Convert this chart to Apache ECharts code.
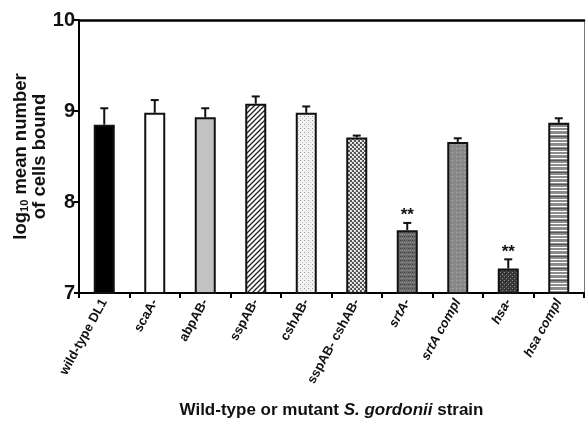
<!DOCTYPE html>
<html>
<head>
<meta charset="utf-8">
<script src="https://cdn.jsdelivr.net/npm/echarts@6/dist/echarts.min.js"></script>
<style>html,body{margin:0;padding:0;background:#fff}#c{width:586px;height:423px}</style>
</head>
<body>
<div id="c"></div>
<script>
var categories = ['wild-type DL1','scaA-','abpAB-','sspAB-','cshAB-','sspAB- cshAB-','srtA-','srtA compl','hsa-','hsa compl'];
var italicCats = [false,false,false,false,false,false,true,true,true,true];
var values = [8.85, 8.98, 8.93, 9.08, 8.98, 8.71, 7.69, 8.66, 7.27, 8.87];
var errorTops = [9.03, 9.12, 9.03, 9.16, 9.05, 8.73, 7.77, 8.70, 7.37, 8.92];
var annotations = ['', '', '', '', '', '', '**', '', '**', ''];
var yTicks = [7, 8, 9, 10];

var FF = 'Liberation Sans, Arial, sans-serif';
function pat(kind){
  var c = document.createElement('canvas');
  var s = 4; c.width = s; c.height = s;
  var g = c.getContext('2d');
  function px(x,y,col){g.fillStyle=col;g.fillRect(x,y,1,1);}
  if(kind==='hatch'){
    c.width=5;c.height=5;
    g.fillStyle='#fff';g.fillRect(0,0,5,5);
    g.strokeStyle='#222';g.lineWidth=1.3;
    g.beginPath();g.moveTo(-1,6);g.lineTo(6,-1);g.moveTo(-1,1);g.lineTo(1,-1);g.moveTo(4,6);g.lineTo(6,4);g.stroke();
  } else if(kind==='lightdots'){
    g.fillStyle='#f2f2f2';g.fillRect(0,0,s,s);
    px(0,0,'#999');px(2,2,'#bbb');
  } else if(kind==='checker'){
    g.fillStyle='#555';g.fillRect(0,0,s,s);
    g.fillStyle='#ddd';g.fillRect(0,0,2,2);g.fillRect(2,2,2,2);
    px(0,0,'#fff');px(2,2,'#fff');
  } else if(kind==='darkdots'){
    g.fillStyle='#6a6a6a';g.fillRect(0,0,s,s);
    px(0,0,'#444');px(2,2,'#999');px(2,0,'#555');px(0,2,'#888');
  } else if(kind==='midgray'){
    g.fillStyle='#8a8a8a';g.fillRect(0,0,s,s);
    px(0,0,'#a8a8a8');px(2,2,'#777');
  } else if(kind==='darkchecker'){
    g.fillStyle='#3a3a3a';g.fillRect(0,0,s,s);
    px(0,0,'#888');px(2,2,'#888');px(1,1,'#222');
  } else if(kind==='hstripes'){
    c.width=4;c.height=12;
    g.fillStyle='#8c8c8c';g.fillRect(0,0,4,12);
    g.fillStyle='#fff';g.fillRect(0,2,4,1);g.fillRect(0,7,4,1);g.fillRect(0,10,4,1);
    g.fillStyle='#555';g.fillRect(0,4,4,1);
  }
  return {image:c, repeat:'repeat'};
}
var fills = ['#000','#fff','#c2c2c2',pat('hatch'),pat('lightdots'),pat('checker'),pat('darkdots'),pat('midgray'),pat('darkchecker'),pat('hstripes')];

var barData = values.map(function(v,i){
  return {value:v, itemStyle:{color:fills[i], borderColor:'#111', borderWidth:2}};
});
var errData = values.map(function(v,i){ return [i, v, errorTops[i]]; });

var chart = echarts.init(document.getElementById('c'), null, {renderer:'canvas'});
chart.setOption({
  animation:false,
  grid:{left:79, right:2, top:20, bottom:130, containLabel:false, outerBoundsMode:'none'},
  xAxis:[{
    type:'category', data:categories, boundaryGap:true,
    axisLine:{lineStyle:{color:'#000', width:2}},
    axisTick:{show:true, length:5, lineStyle:{color:'#000', width:2}},
    axisLabel:{
      rotate:61, margin:7, fontFamily:FF, fontSize:13, fontWeight:'bold', color:'#111',
      formatter:function(v,i){ return italicCats[i] ? '{it|'+v+'}' : v; },
      rich:{it:{fontStyle:'italic', fontWeight:'bold', fontSize:13, fontFamily:FF, color:'#111'}}
    },
    name:'{b|Wild-type or mutant }{i|S. gordonii}{b| strain}',
    nameLocation:'middle', nameGap:109, nameMoveOverlap:false,
    nameTextStyle:{
      rich:{
        b:{fontFamily:FF, fontSize:17, fontWeight:'bold', color:'#111'},
        i:{fontFamily:FF, fontSize:17, fontWeight:'bold', fontStyle:'italic', color:'#111'}
      }
    }
  },{
    type:'category', data:categories, position:'top',
    axisLine:{lineStyle:{color:'#000', width:2.5}}, axisTick:{show:false}, axisLabel:{show:false}
  }],
  yAxis:[{
    type:'value', min:7, max:10, interval:1,
    axisLine:{show:true, lineStyle:{color:'#000', width:2}},
    axisTick:{show:true, length:5, lineStyle:{color:'#000', width:2}},
    splitLine:{show:false},
    axisLabel:{fontFamily:FF, fontSize:20, fontWeight:'bold', color:'#111', margin:4,
      formatter:function(v){ return yTicks.indexOf(v) >= 0 ? String(v) : ''; }},
    name:'{t|log}{s|10}{t| mean number}\n{t|of cells bound}',
    nameLocation:'middle', nameGap:30, nameRotate:90, nameMoveOverlap:false,
    nameTextStyle:{
      align:'center', lineHeight:19,
      rich:{
        t:{fontFamily:FF, fontSize:18.5, fontWeight:'bold', color:'#111', lineHeight:19},
        s:{fontFamily:FF, fontSize:11, fontWeight:'bold', color:'#111', verticalAlign:'bottom', lineHeight:19, padding:[7,0,0,0]}
      }
    }
  },{
    type:'value', min:7, max:10, interval:1, position:'right',
    axisLine:{show:true, lineStyle:{color:'#777', width:1}}, axisTick:{show:false}, axisLabel:{show:false}, splitLine:{show:false}
  }],
  series:[{
    type:'bar', data:barData, barWidth:21, z:2
  },{
    type:'custom', z:3,
    data:errData,
    renderItem:function(params, api){
      var x = api.value(0);
      var p0 = api.coord([x, api.value(1)]);
      var p1 = api.coord([x, api.value(2)]);
      var children = [
        {type:'line', shape:{x1:p0[0], y1:p0[1], x2:p1[0], y2:p1[1]}, style:{stroke:'#111', lineWidth:2}},
        {type:'line', shape:{x1:p1[0]-4, y1:p1[1], x2:p1[0]+4, y2:p1[1]}, style:{stroke:'#111', lineWidth:2}}
      ];
      var a = annotations[params.dataIndex];
      if(a){
        children.push({type:'text', style:{text:a, x:p1[0], y:p1[1]+1, textAlign:'center', textVerticalAlign:'bottom',
          font:'bold 17px Liberation Sans, Arial, sans-serif', fill:'#111'}});
      }
      return {type:'group', children:children};
    }
  }]
});
</script>
</body>
</html>
